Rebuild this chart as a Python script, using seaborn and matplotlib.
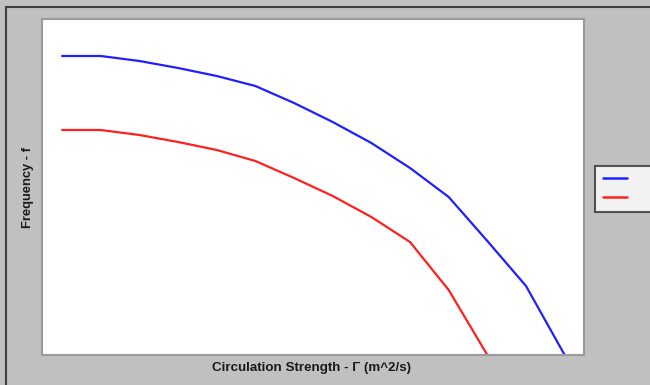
import matplotlib
matplotlib.use("Agg")
import matplotlib.pyplot as plt
import seaborn as sns
import pandas as pd
from matplotlib.lines import Line2D
from matplotlib.patches import Rectangle

# Data (relative units; axes have no tick labels)
gamma_blue = [0, 1, 2, 3, 4, 5, 6, 7, 8, 9, 10, 11, 12, 13]
freq_blue = [299, 299, 294, 287, 279, 269, 252, 233, 212, 187, 158, 114, 69, 0]
gamma_red = [0, 1, 2, 3, 4, 5, 6, 7, 8, 9, 10, 11]
freq_red = [225, 225, 220, 213, 205, 194, 177, 159, 138, 113, 65, 0]
series_names = ["upper", "lower"]
x_label = "Circulation Strength - \u0393 (m^2/s)"
y_label = "Frequency - f"

df = pd.concat([
    pd.DataFrame({"gamma": gamma_blue, "freq": freq_blue, "series": series_names[0]}),
    pd.DataFrame({"gamma": gamma_red, "freq": freq_red, "series": series_names[1]}),
])

sns.set_theme(style="white")
plt.rcParams["font.family"] = ["Liberation Sans", "DejaVu Sans"]

W, H = 650, 385
fig = plt.figure(figsize=(6.5, 3.85), dpi=100, facecolor="#c0c0c0")
ax = fig.add_axes([42 / W, 1 - 355 / H, (584 - 42) / W, (355 - 19) / H])
ax.set_facecolor("white")

palette = {series_names[0]: "#2020ff", series_names[1]: "#ff2020"}
sns.lineplot(data=df, x="gamma", y="freq", hue="series", palette=palette,
             linewidth=1.6, ax=ax, legend=False, sort=False)

ax.set_xlim(-0.52, 13.5)
ax.set_ylim(0, 336)
ax.set_xticks([])
ax.set_yticks([])
ax.set_xlabel("")
ax.set_ylabel("")
for s in ax.spines.values():
    s.set_color("#9a9a9a")
    s.set_linewidth(1.5)

fig.text(312 / W, 1 - 368 / H, x_label, ha="center", va="center",
         fontsize=9.6, fontweight="bold", color="#1a1a1a")
fig.text(28 / W, 1 - 188 / H, y_label, ha="center", va="center",
         rotation=90, fontsize=9.3, fontweight="bold", color="#1a1a1a")

# outer frame (top/left dark edge)
fig.add_artist(Rectangle((6 / W, -0.1), 1.2, 1 - 7 / H + 0.1, transform=fig.transFigure,
                         fill=False, edgecolor="#404040", linewidth=1.5))

handles = [Line2D([], [], color=palette[series_names[0]], lw=1.8),
           Line2D([], [], color=palette[series_names[1]], lw=1.8)]
leg = fig.legend(handles, ["      ", "      "], loc="upper left",
                 bbox_to_anchor=(595 / W, 1 - 166 / H), frameon=True,
                 fancybox=False, handlelength=2.1, fontsize=8,
                 borderpad=0.75, labelspacing=0.8, handletextpad=0.5,
                 borderaxespad=0)
leg.get_frame().set_edgecolor("#303030")
leg.get_frame().set_linewidth(1.5)
leg.get_frame().set_facecolor("white")

fig.savefig("out.png", dpi=100, facecolor=fig.get_facecolor())
